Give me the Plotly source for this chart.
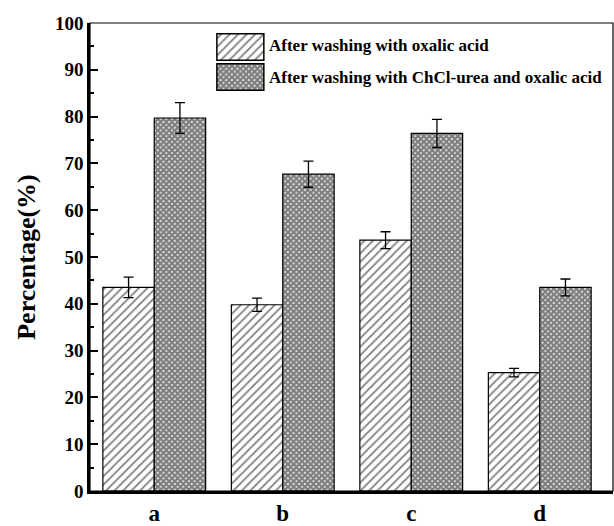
import plotly.graph_objects as go

categories = ["a", "b", "c", "d"]
oxalic = [43.5, 39.8, 53.6, 25.3]
oxalic_err = [2.2, 1.4, 1.8, 0.9]
chcl = [79.7, 67.7, 76.4, 43.5]
chcl_err = [3.3, 2.8, 3.0, 1.8]
names = ["After washing with oxalic acid", "After washing with ChCl-urea and oxalic acid"]

FONT = "Liberation Serif"

hatch = dict(shape="/", fgcolor="black", bgcolor="white", size=6, solidity=0.3)
cross = dict(shape="x", fgcolor="black", bgcolor="white", size=4, solidity=0.85)
patterns = [hatch, cross]

fig = go.Figure()
fig.add_trace(go.Bar(
    x=categories, y=oxalic, name=names[0], showlegend=False,
    marker=dict(color="white", line=dict(color="black", width=1.2), pattern=hatch),
    error_y=dict(type="data", array=oxalic_err, color="black", thickness=1.3, width=5),
))
fig.add_trace(go.Bar(
    x=categories, y=chcl, name=names[1], showlegend=False,
    marker=dict(color="white", line=dict(color="black", width=1.2), pattern=cross),
    error_y=dict(type="data", array=chcl_err, color="black", thickness=1.3, width=5),
))

# legend keys drawn as an inset of two horizontal swatches
legend_y = [0.951, 0.8825]
for i, (nm, pat) in enumerate(zip(names, patterns)):
    fig.add_trace(go.Bar(
        x=[1], y=[i], orientation="h", xaxis="x2", yaxis="y2", showlegend=False,
        hoverinfo="skip", name=nm, width=0.88,
        marker=dict(color="white", line=dict(color="black", width=1.5), pattern=pat),
    ))
    fig.add_annotation(text=nm, xref="paper", yref="paper", x=0.338, y=legend_y[i],
                       xanchor="left", yanchor="middle", showarrow=False,
                       font=dict(family=FONT, size=17, color="black", weight="bold"))

fig.update_layout(
    width=614, height=526,
    margin=dict(l=90, r=1, t=23, b=35),
    plot_bgcolor="white", paper_bgcolor="white",
    barmode="group", bargap=0.2, bargroupgap=0,
    font=dict(family=FONT, color="black"),
    showlegend=False,
    xaxis=dict(range=[-0.5, 3.57], showline=True, linewidth=2.5, linecolor="black",
               ticks="", tickfont=dict(family=FONT, size=23, color="black", weight="bold"),
               showgrid=False, zeroline=False),
    yaxis=dict(range=[0, 100], tickmode="array", tickvals=list(range(0, 101, 10)),
               showline=True, linewidth=2.5, linecolor="black",
               ticks="inside", ticklen=8, tickwidth=2, tickcolor="black",
               minor=dict(ticks="inside", ticklen=4, tickwidth=1.5, tickcolor="black", dtick=5),
               tickfont=dict(family=FONT, size=19, color="black", weight="bold"),
               showgrid=False, zeroline=False,
               title=dict(text="Percentage(%)", standoff=12,
                          font=dict(family=FONT, size=26, color="black", weight="bold"))),
    xaxis2=dict(domain=[0.239, 0.336], range=[-0.04, 1.04], visible=False, fixedrange=True),
    yaxis2=dict(domain=[0.8526, 0.9808], range=[1.5, -0.5], visible=False, fixedrange=True),
)
fig.add_shape(type="rect", xref="paper", yref="paper", x0=0, y0=0, x1=1, y1=1,
              line=dict(color="black", width=1.2), layer="above")

fig.write_html("out.html")
